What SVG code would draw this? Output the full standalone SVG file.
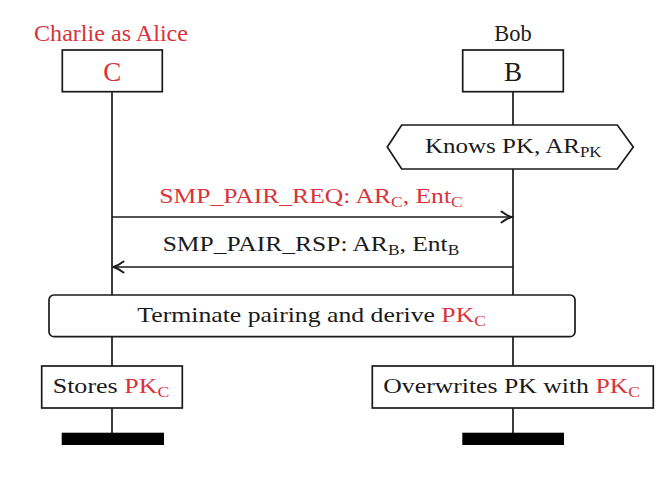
<svg xmlns="http://www.w3.org/2000/svg" width="669" height="500" viewBox="0 0 669 500">
<defs>
<style>
.t{font-family:"Liberation Serif","Times New Roman",serif;font-size:22px;fill:#1a1a1a}
.h{font-family:"Liberation Serif","Times New Roman",serif;font-size:23px;fill:#1a1a1a}
.big{font-family:"Liberation Serif","Times New Roman",serif;font-size:27px;fill:#1a1a1a;text-anchor:middle}
.red{fill:#d8343a}
.sub{font-size:15px}
.box{fill:#fff;stroke:#1a1a1a;stroke-width:1.7}
.ln{fill:none;stroke:#1a1a1a;stroke-width:1.7}
.bar{fill:#000}
</style>
<marker id="ah" viewBox="-13 -8 15 16" refX="0" refY="0" markerWidth="15" markerHeight="16" orient="auto" markerUnits="userSpaceOnUse">
<path d="M-10,-5.5 Q-4.5,-1.3 0,0 Q-4.5,1.3 -10,5.5" fill="none" stroke="#1a1a1a" stroke-width="2" stroke-linecap="round"/>
</marker>
</defs>
<rect width="669" height="500" fill="#fff"/>

<g id="connectors">
<line class="ln" x1="112" y1="91.7" x2="112" y2="433"/>
<line class="ln" x1="513" y1="91.7" x2="513" y2="433"/>
<line class="ln" x1="112" y1="217" x2="511.5" y2="217" marker-end="url(#ah)"/>
<line class="ln" x1="513" y1="267" x2="113.5" y2="267" marker-end="url(#ah)"/>
<text class="t red" x="159.3" y="202.7" textLength="303.4" lengthAdjust="spacingAndGlyphs">SMP_PAIR_REQ: AR<tspan class="sub" dy="4">C</tspan><tspan dy="-4">, Ent</tspan><tspan class="sub" dy="4">C</tspan></text>
<text class="t" x="162.7" y="251" textLength="296.6" lengthAdjust="spacingAndGlyphs">SMP_PAIR_RSP: AR<tspan class="sub" dy="4">B</tspan><tspan dy="-4">, Ent</tspan><tspan class="sub" dy="4">B</tspan></text>
</g>

<g id="alice">
<text class="h red" x="34" y="40.7" textLength="154" lengthAdjust="spacingAndGlyphs">Charlie as Alice</text>
<rect class="box" x="62.3" y="50" width="100" height="41.7"/>
<text class="big red" x="112.3" y="81">C</text>
</g>

<g id="bob">
<text class="h" x="494.3" y="40.7" textLength="37.4" lengthAdjust="spacingAndGlyphs">Bob</text>
<rect class="box" x="462.7" y="50" width="100.6" height="41.7"/>
<text class="big" x="513" y="81">B</text>
</g>

<g id="knows">
<polygon class="box" points="387.3,147 401.7,125 617.3,125 633.3,147 617.3,169 401.7,169"/>
<text class="t" x="425" y="153.3" textLength="176.7" lengthAdjust="spacingAndGlyphs">Knows PK, AR<tspan class="sub" dy="4">PK</tspan></text>
</g>

<g id="terminate">
<rect class="box" x="49" y="295" width="526" height="41.7" rx="5"/>
<text class="t" x="137.3" y="321.7" textLength="348.7" lengthAdjust="spacingAndGlyphs">Terminate pairing and derive <tspan class="red">PK</tspan><tspan class="red sub" dy="4">C</tspan></text>
</g>

<g id="stores">
<rect class="box" x="41.7" y="366" width="140.6" height="42"/>
<text class="t" x="52.7" y="392.7" textLength="116.6" lengthAdjust="spacingAndGlyphs">Stores <tspan class="red">PK</tspan><tspan class="red sub" dy="4">C</tspan></text>
</g>

<g id="overwrites">
<rect class="box" x="372.3" y="366" width="281" height="42"/>
<text class="t" x="383.3" y="392.7" textLength="256.7" lengthAdjust="spacingAndGlyphs">Overwrites PK with <tspan class="red">PK</tspan><tspan class="red sub" dy="4">C</tspan></text>
</g>

<g id="end-c"><rect class="bar" x="61.7" y="432.7" width="102.3" height="12.3"/></g>
<g id="end-b"><rect class="bar" x="462.3" y="432.7" width="101.7" height="12.3"/></g>
</svg>
